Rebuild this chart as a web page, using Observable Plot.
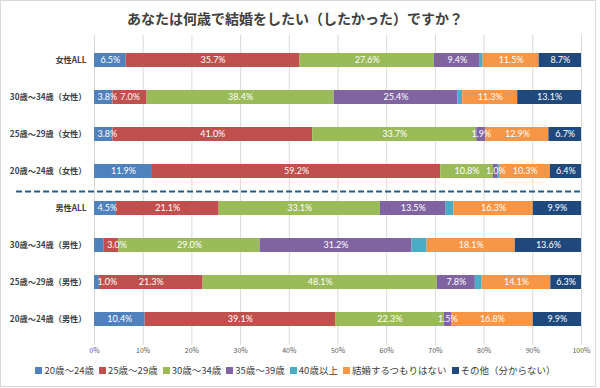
<!DOCTYPE html>
<html><head><meta charset="utf-8">
<script src="https://cdn.jsdelivr.net/npm/d3@7"></script>
<script src="https://cdn.jsdelivr.net/npm/@observablehq/plot@0.6"></script>
<style>
body{margin:0;background:#fff;font-family:"Noto Sans CJK JP",sans-serif;}
#wrap{position:relative;width:596px;height:387px;border:1px solid #d9d9d9;box-sizing:border-box;background:#fff;overflow:hidden;}
#title{height:34px;line-height:34px;text-align:center;font-size:14px;font-weight:bold;color:#404040;padding-right:6px;}
#chart svg{display:block;}
#chart svg g[aria-label="y-axis tick label"] text{font-weight:bold;fill:#404040;}
#legend{margin-top:2px;}
</style>
</head><body>
<div id="wrap">
  <div id="title">あなたは何歳で結婚をしたい（したかった）ですか？</div>
  <div id="chart"></div>
  <div id="legend"></div>
</div>
<script>
const rows = ["女性ALL","30歳～34歳（女性）","25歳～29歳（女性）","20歳～24歳（女性）","男性ALL","30歳～34歳（男性）","25歳～29歳（男性）","20歳～24歳（男性）"];
const series = ["20歳～24歳","25歳～29歳","30歳～34歳","35歳～39歳","40歳以上","結婚するつもりはない","その他（分からない）"];
const colors = ["#4F81BD","#C0504D","#9BBB59","#8064A2","#4BACC6","#F79646","#1F497D"];
const v20_24 = [6.5, 3.8, 3.8, 11.9, 4.5, 2.0, 1.0, 10.4];
const v25_29 = [35.7, 7.0, 41.0, 59.2, 21.1, 3.0, 21.3, 39.1];
const v30_34 = [27.6, 38.4, 33.7, 10.8, 33.1, 29.0, 48.1, 22.3];
const v35_39 = [9.4, 25.4, 1.9, 1.0, 13.5, 31.2, 7.8, 1.5];
const v40 = [0.6, 1.0, 0.0, 0.4, 1.6, 3.1, 1.4, 0.0];
const vNone = [11.5, 11.3, 12.9, 10.3, 16.3, 18.1, 14.1, 16.8];
const vOther = [8.7, 13.1, 6.7, 6.4, 9.9, 13.6, 6.3, 9.9];
const xTicks = [0,10,20,30,40,50,60,70,80,90,100];
// labels not shown in the original
const hiddenLabels = [["30歳～34歳（男性）","20歳～24歳"]];
const hiddenSeries = ["40歳以上"];
// labels that start at the left edge of their segment in the original
const startLabels = [["30歳～34歳（女性）","20歳～24歳"],["25歳～29歳（女性）","20歳～24歳"],["男性ALL","20歳～24歳"],["30歳～34歳（男性）","25歳～29歳"],["25歳～29歳（男性）","20歳～24歳"]];

const valuesBySeries = [v20_24, v25_29, v30_34, v35_39, v40, vNone, vOther];
const data = [];
rows.forEach((r, i) => {
  let acc = 0;
  series.forEach((s, j) => {
    const value = valuesBySeries[j][i];
    data.push({row: r, series: s, value, start: acc});
    acc += value;
  });
});
const inList = (list, d) => list.some(([r, s]) => r === d.row && s === d.series);
const isHidden = d => hiddenSeries.includes(d.series) || inList(hiddenLabels, d);
const isStart = d => inList(startLabels, d);
const fmt = d => d.value.toFixed(1) + "%";

const plot = Plot.plot({
  width: 594, height: 326,
  marginLeft: 93, marginRight: 14, marginTop: 0, marginBottom: 16,
  style: {fontFamily: "'Noto Sans CJK JP', sans-serif", background: "#fff"},
  x: {domain: [0, 100], label: null},
  y: {domain: rows, paddingInner: 0.62, paddingOuter: 0.39, label: null},
  color: {domain: series, range: colors},
  marks: [
    Plot.gridX(xTicks, {stroke: "#d9d9d9", strokeOpacity: 1}),
    Plot.barX(data, Plot.stackX({x: "value", y: "row", fill: "series"})),
    Plot.text(data, Plot.stackX({x: "value", y: "row", z: "series",
      text: d => (isHidden(d) || isStart(d)) ? "" : fmt(d),
      fill: "white", fontSize: 9, fontFamily: "Lato, sans-serif"})),
    Plot.text(data.filter(isStart), {x: "start", y: "row", text: fmt, textAnchor: "start", dx: 3,
      fill: "white", fontSize: 9, fontFamily: "Lato, sans-serif"}),
    Plot.ruleY([rows[4]], {x1: -16, x2: 100, dy: -17, stroke: "#1F5F8B", strokeWidth: 2, strokeDasharray: "6,3"}),
    Plot.axisX({ticks: xTicks, tickFormat: d => d + "%", tickSize: 0, tickPadding: 3, fontSize: 7, color: "#595959", label: null}),
    Plot.axisY({tickSize: 0, tickPadding: 8, fontSize: 8.2, label: null})
  ]
});
document.getElementById("chart").appendChild(plot);

const lg = plot.legend("color", {swatchSize: 7, className: "lg"});
lg.style.minHeight = "0";
lg.style.justifyContent = "center";
lg.style.fontFamily = "'Noto Sans CJK JP', sans-serif";
lg.style.fontSize = "9.5px";
lg.style.color = "#404040";
lg.style.margin = "0";
lg.querySelectorAll(":scope > span").forEach(sp => {
  sp.style.marginRight = "5px";
  const sv = sp.querySelector("svg");
  if (sv) sv.style.marginRight = "2px";
});
document.getElementById("legend").appendChild(lg);
</script>
</body></html>
